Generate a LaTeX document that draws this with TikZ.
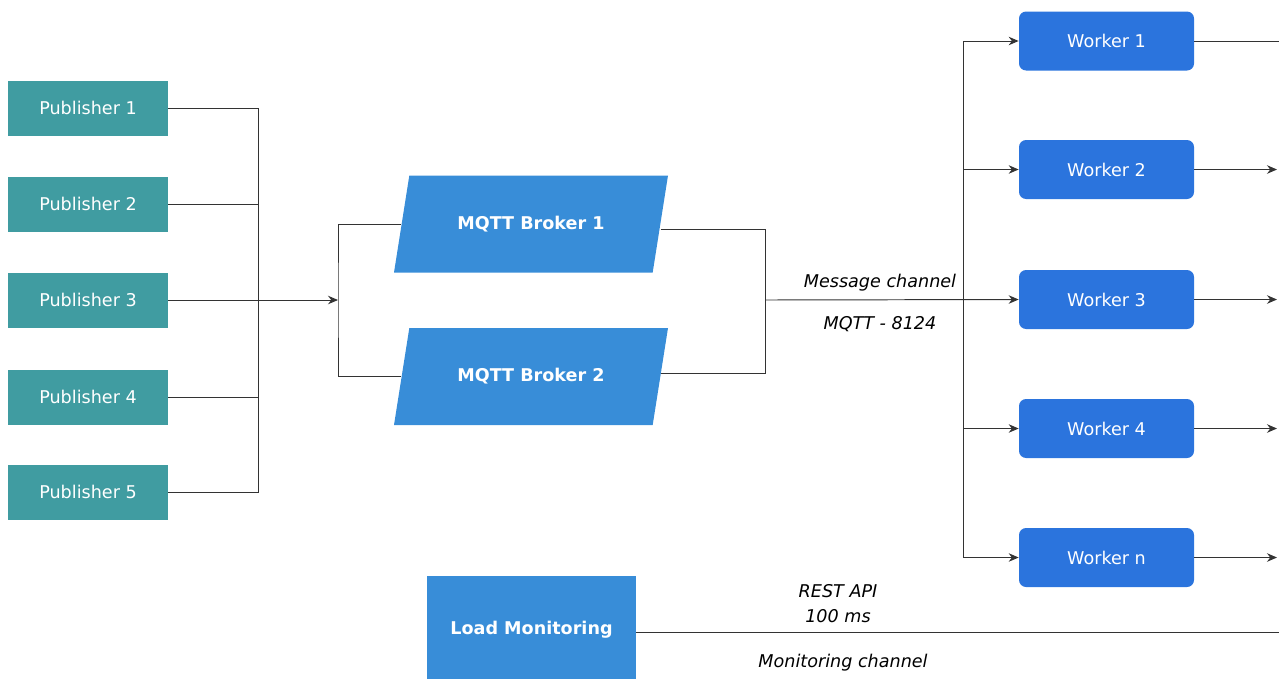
\documentclass[tikz,border=0pt]{standalone}
\usepackage{xcolor}
\usepackage{fontspec}
\setmainfont{DejaVu Sans}
\usepackage{tikz}
\usetikzlibrary{shapes.geometric, arrows.meta, positioning}

\definecolor{pubteal}{HTML}{409CA1}
\definecolor{brokerblue}{HTML}{388DD8}
\definecolor{workerblue}{HTML}{2B74DD}

\begin{document}
\begin{tikzpicture}
  [
    Publisher/.style={rectangle, fill=pubteal, text=white, minimum width=3.2cm, minimum height=1.1cm},
    Broker/.style={trapezium, trapezium left angle=61, trapezium right angle=119, trapezium stretches body,
                   fill=brokerblue, text=white, font=\bfseries, minimum width=5.48cm, minimum height=1.94cm},
    Worker/.style={rectangle, rounded corners=4pt, fill=workerblue, text=white, minimum width=3.5cm, minimum height=1.18cm},
    Monitor/.style={rectangle, fill=brokerblue, text=white, font=\bfseries, minimum width=4.18cm, minimum height=2.16cm},
    Wire/.style={draw, black!80, line width=0.55pt},
    Tip/.style={-{Stealth[length=2mm, width=1.7mm]}},
    Label/.style={font=\itshape, text=black}
  ]
  \useasboundingbox (0, 0) rectangle (25.58, -13.56);

  % Nodes
  \node[Publisher] (p1) at(1.76, -2.16) {Publisher 1};
  \node[Publisher] (p2) at(1.76, -4.08) {Publisher 2};
  \node[Publisher] (p3) at(1.76, -6.00) {Publisher 3};
  \node[Publisher] (p4) at(1.76, -7.94) {Publisher 4};
  \node[Publisher] (p5) at(1.76, -9.84) {Publisher 5};

  \node[Broker] (b1) at(10.62, -4.48) {MQTT Broker 1};
  \node[Broker] (b2) at(10.62, -7.53) {MQTT Broker 2};

  \node[Worker] (w1) at(22.13, -0.82) {Worker 1};
  \node[Worker] (w2) at(22.13, -3.39) {Worker 2};
  \node[Worker] (w3) at(22.13, -5.99) {Worker 3};
  \node[Worker] (w4) at(22.13, -8.57) {Worker 4};
  \node[Worker] (wn) at(22.13, -11.15) {Worker n};

  \node[Monitor] (lm) at(10.63, -12.6) {Load Monitoring};

  % Junctions
  \coordinate (bus) at(5.16, -6.00);
  \coordinate (join) at(6.76, -6.00);
  \coordinate (merge) at(15.30, -6.00);
  \coordinate (fan) at(19.26, -5.99);

  \coordinate (o1) at(25.58, -0.82);
  \coordinate (o2) at(25.54, -3.39);
  \coordinate (o3) at(25.54, -5.99);
  \coordinate (o4) at(25.54, -8.57);
  \coordinate (on) at(25.54, -11.15);
  \coordinate (om) at(25.58, -12.64);

  % Lines
  \path [Wire] (p1.east) -| (bus);
  \path [Wire] (p2.east) -| (bus);
  \path [Wire] (p4.east) -| (bus);
  \path [Wire] (p5.east) -| (bus);
  \path [Wire, Tip] (p3.east) -- (join);

  \path [Wire] (b1.west) -| (join) |- (b2.west);
  \path [Wire] ([yshift=-0.1cm]b1.east) -| (merge) |- ([yshift=0.06cm]b2.east);
  \path [Wire, Tip] (merge) -- (w3.west);

  \path [Wire, Tip] (fan) |- (w1.west);
  \path [Wire, Tip] (fan) |- (w2.west);
  \path [Wire, Tip] (fan) |- (w4.west);
  \path [Wire, Tip] (fan) |- (wn.west);

  \path [Wire] (w1.east) -- (o1);
  \path [Wire, Tip] (w2.east) -- (o2);
  \path [Wire, Tip] (w3.east) -- (o3);
  \path [Wire, Tip] (w4.east) -- (o4);
  \path [Wire, Tip] (wn.east) -- (on);

  \path [Wire] (lm.east |- om) -- (om);

  % Labels
  \node[Label] (msg) at(17.60, -5.66) {Message channel};
  \node[Label] (port) at(17.60, -6.48) {MQTT - 8124};
  \node[Label] (rest) at(16.76, -11.82) {REST API};
  \node[Label] (rate) at(16.76, -12.32) {100 ms};
  \node[Label] (mon) at(16.86, -13.26) {Monitoring channel};

\end{tikzpicture}
\end{document}
